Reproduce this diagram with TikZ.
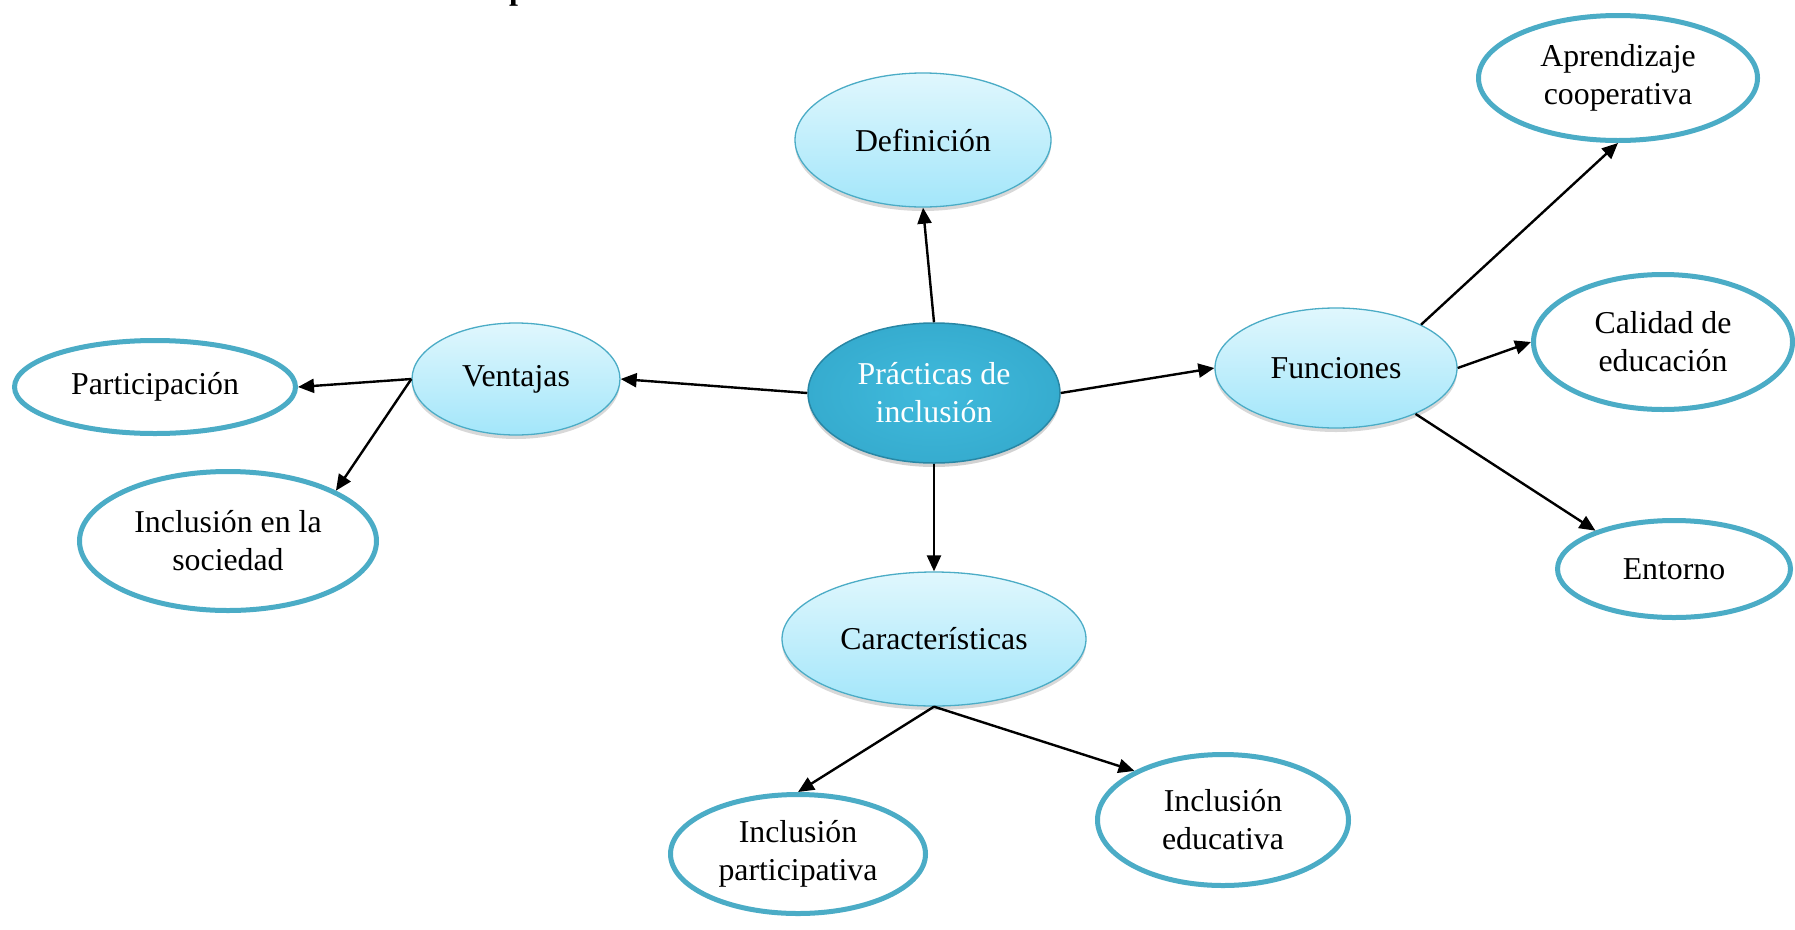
\documentclass[tikz,border=0pt]{standalone}
\usepackage{fontspec}
\setmainfont{Liberation Serif}
\usetikzlibrary{shapes.geometric,arrows.meta,shadows}
\definecolor{accent}{RGB}{75,172,198}
\definecolor{lighttop}{RGB}{224,247,253}
\definecolor{lightbot}{RGB}{163,230,250}
\definecolor{hubin}{RGB}{64,186,220}
\definecolor{hubout}{RGB}{54,172,207}
\definecolor{hubrim}{RGB}{40,135,165}
\tikzset{
  base/.style={ellipse, inner sep=0pt, align=center, font=\fontsize{31.8}{38}\selectfont},
  lightnode/.style={base, draw=accent, line width=1.3pt, top color=lighttop, bottom color=lightbot,
    drop shadow={opacity=0.3, shadow xshift=0pt, shadow yshift=-4pt}},
  whitenode/.style={base, draw=accent, line width=5pt, fill=white},
  hubnode/.style={base, draw=hubrim, line width=1.5pt, inner color=hubin, outer color=hubout, text=white,
    drop shadow={opacity=0.35, shadow xshift=0pt, shadow yshift=-4pt}},
  arr/.style={line width=2.4pt, -{Triangle[length=16pt,width=14pt]}}
}
\begin{document}
\begin{tikzpicture}[x=1pt,y=-1pt]
\useasboundingbox (0,0) rectangle (1795,929);
\fill[white] (0,0) rectangle (1795,929);
\node[anchor=base west, font=\fontsize{32}{38}\selectfont\bfseries, inner sep=0pt] (ttl) at (509,-1) {p};
% hub
\node[hubnode, minimum width=252pt, minimum height=140pt] (prac) at (934,393) {Prácticas de\\inclusión};
% first level
\node[lightnode, minimum width=256pt, minimum height=134pt] (def) at (923,140) {Definición};
\node[lightnode, minimum width=208pt, minimum height=112pt] (vent) at (516,379) {Ventajas};
\node[lightnode, minimum width=242pt, minimum height=120pt] (func) at (1336,368) {Funciones};
\node[lightnode, minimum width=304pt, minimum height=134pt] (car) at (934,639) {Características};
% second level
\node[whitenode, minimum width=281pt, minimum height=93pt] (part) at (155,387) {Participación};
\node[whitenode, minimum width=297pt, minimum height=139pt] (soc) at (228,541) {Inclusión en la\\sociedad};
\node[whitenode, minimum width=279pt, minimum height=125pt] (apr) at (1618,78) {Aprendizaje\\cooperativa};
\node[whitenode, minimum width=259pt, minimum height=135pt] (cal) at (1663,342) {Calidad de\\educación};
\node[whitenode, minimum width=233pt, minimum height=97pt] (ent) at (1674,569) {Entorno};
\node[whitenode, minimum width=255pt, minimum height=119pt] (ipart) at (798,854) {Inclusión\\participativa};
\node[whitenode, minimum width=251pt, minimum height=131pt] (iedu) at (1223,820) {Inclusión\\educativa};
% connectors
\draw[arr] (prac.north) -- (def.south);
\draw[arr] (prac.west) -- (vent.east);
\draw[arr] (prac.east) -- (func.west);
\draw[arr] (prac.south) -- (car.north);
\draw[arr] (vent.west) -- (part.east);
\draw[arr] (vent.west) -- (soc.25);
\draw[arr] (func.27) -- (apr.south);
\draw[arr] (func.east) -- (cal.west);
\draw[arr] (func.-30) -- (ent.154);
\draw[arr] (car.south) -- (ipart.north);
\draw[arr] (car.south) -- (iedu.151);
\end{tikzpicture}
\end{document}
